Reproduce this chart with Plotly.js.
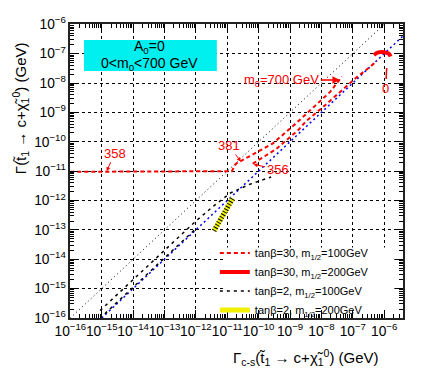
<!DOCTYPE html>
<html>
<head>
<meta charset="utf-8">
<script src="https://cdn.plot.ly/plotly-3.0.1.min.js"></script>
<style>
  html, body { margin: 0; padding: 0; background: #fff; }
  #plot { width: 429px; height: 382px; }
</style>
</head>
<body>
<div id="plot"></div>
<script>
// diagonal references
var diagX = [1e-16, 1e-6];
var diagY = [1e-16, 1e-6];
var blueX = [1e-15, 4e-6];
var blueY = [1e-16, 4e-7];

// tan(beta)=30, m1/2=100 GeV (two branches)
var red100aX = [1e-16, 1e-12, 1.4e-11, 1.9e-11, 2.8e-10, 1.5e-9, 3.1e-9, 7.4e-9, 1.9e-8, 4.5e-8];
var red100aY = [9.5e-12, 1e-11, 1e-11, 1.8e-11, 8.7e-11, 4.1e-10, 8.3e-10, 1.9e-9, 5e-9, 1.66e-8];
var red100bX = [6.5e-11, 3.5e-10, 1.9e-9, 3.1e-9, 1.15e-8, 3.9e-8, 1.35e-7, 3.5e-7, 5.9e-7];
var red100bY = [1.8e-11, 5.5e-11, 2.6e-10, 4.8e-10, 1.55e-9, 5e-9, 1.6e-8, 3.5e-8, 5.6e-8];

// tan(beta)=30, m1/2=200 GeV
var red200X = [4.7e-7, 6.5e-7, 1e-6, 1.4e-6, 1.6e-6];
var red200Y = [9e-8, 1.1e-7, 1.12e-7, 1e-7, 8e-8];

// tan(beta)=2, m1/2=100 GeV (two branches)
var blk100aX = [8.9e-16, 5e-15, 3.2e-14, 2e-13, 1e-12, 4e-12, 1.26e-11, 5e-11, 2.5e-10];
var blk100aY = [1.8e-16, 1e-15, 6.3e-15, 4e-14, 2e-13, 7e-13, 1.8e-12, 3.5e-12, 6.3e-12];
var blk100bX = [1.26e-15, 6.3e-15, 4e-14, 2.5e-13, 1e-12];
var blk100bY = [1.4e-16, 7e-16, 4.5e-15, 2.8e-14, 1.1e-13];

// tan(beta)=2, m1/2=200 GeV
var yelX = [3.8e-12, 7.9e-12, 1.5e-11];
var yelY = [9.3e-14, 4e-13, 1.2e-12];

var names = [
  'tan\u03b2=30, m<sub>1/2</sub>=100GeV',
  'tan\u03b2=30, m<sub>1/2</sub>=200GeV',
  'tan\u03b2=2, m<sub>1/2</sub>=100GeV',
  'tan\u03b2=2, m<sub>1/2</sub>=200GeV'
];

var traces = [
  {x: diagX, y: diagY, mode: 'lines', showlegend: false, hoverinfo: 'skip',
   line: {color: '#000', width: 1, dash: '1px,3px'}},
  {x: blueX, y: blueY, mode: 'lines', showlegend: false, hoverinfo: 'skip',
   line: {color: '#0000ff', width: 1.5, dash: '2px,3px'}},
  {x: red100aX, y: red100aY, mode: 'lines', name: names[0], legendgroup: 'r1',
   line: {color: '#ff0000', width: 2, dash: '4px,3px'}},
  {x: red100bX, y: red100bY, mode: 'lines', name: names[0], legendgroup: 'r1', showlegend: false,
   line: {color: '#ff0000', width: 2, dash: '4px,3px'}},
  {x: red200X, y: red200Y, mode: 'lines', name: names[1],
   line: {color: '#ff0000', width: 4, shape: 'spline'}},
  {x: blk100aX, y: blk100aY, mode: 'lines', name: names[2], legendgroup: 'b1',
   line: {color: '#000', width: 1.5, dash: '3px,4px'}},
  {x: blk100bX, y: blk100bY, mode: 'lines', name: names[2], legendgroup: 'b1', showlegend: false,
   line: {color: '#000', width: 1.5, dash: '3px,4px'}},
  {x: yelX, y: yelY, mode: 'lines', name: names[3],
   line: {color: '#f0f000', width: 5}},
  {x: yelX, y: yelY, mode: 'lines', showlegend: false, hoverinfo: 'skip',
   line: {color: '#000', width: 5, dash: '1px,2px'}}
];

var axisBase = {
  type: 'log',
  dtick: 1,
  exponentformat: 'power',
  showline: true,
  linecolor: '#222',
  linewidth: 2,
  mirror: 'allticks',
  ticks: 'inside',
  ticklen: 8,
  tickcolor: '#000',
  showgrid: true,
  gridcolor: '#000',
  gridwidth: 1,
  griddash: '3px,3px',
  zeroline: false,
  tickangle: 0,
  tickfont: {family: 'Liberation Sans, Arial, sans-serif', size: 11, color: '#000'},
  minor: {ticks: 'inside', ticklen: 4, tickcolor: '#000', showgrid: false}
};

var layout = {
  width: 429,
  height: 382,
  margin: {l: 70, r: 26, t: 24, b: 64},
  paper_bgcolor: '#fff',
  plot_bgcolor: '#fff',
  font: {family: 'Liberation Sans, Arial, sans-serif', color: '#000'},
  xaxis: Object.assign({}, axisBase, {range: [-16.01, -5.4]}),
  yaxis: Object.assign({}, axisBase, {range: [-16, -5.99]}),
  showlegend: true,
  legend: {
    x: 0.435, y: 0.27, xanchor: 'left', yanchor: 'top',
    bgcolor: 'rgba(0,0,0,0)', borderwidth: 0,
    font: {size: 11, color: '#000'},
    itemwidth: 30, tracegroupgap: 0
  },
  shapes: [
    {type: 'rect', xref: 'paper', yref: 'paper', x0: 0.042, x1: 0.441, y0: 0.840, y1: 0.946,
     fillcolor: '#00f0f0', line: {width: 0}, layer: 'above'},
    {type: 'rect', xref: 'paper', yref: 'paper', x0: 0.468, x1: 0.974, y0: 0.029, y1: 0.24,
     fillcolor: '#fff', line: {width: 0}, layer: 'above'}
  ],
  annotations: [
    {xref: 'paper', yref: 'paper', x: 0.24, y: 0.922, xanchor: 'center', yanchor: 'middle',
     text: 'A<sub>0</sub>=0', showarrow: false, font: {size: 14}},
    {xref: 'paper', yref: 'paper', x: 0.24, y: 0.864, xanchor: 'center', yanchor: 'middle',
     text: '0&lt;m<sub>0</sub>&lt;700 GeV', showarrow: false, font: {size: 14}},
    {x: -14.84, y: -11.0, text: '358', ax: 8, ay: -18, showarrow: true, arrowhead: 2, arrowsize: 0.8,
     arrowcolor: '#ff0000', arrowwidth: 1, font: {size: 13, color: '#ff0000'}},
    {x: -10.57, y: -10.67, text: '381', ax: -12, ay: -16, showarrow: true, arrowhead: 2, arrowsize: 0.8,
     arrowcolor: '#ff0000', arrowwidth: 1, font: {size: 13, color: '#ff0000'}},
    {x: -10.16, y: -10.77, text: '356', ax: 24, ay: 5, showarrow: true, arrowhead: 2, arrowsize: 0.8,
     arrowcolor: '#ff0000', arrowwidth: 1, font: {size: 13, color: '#ff0000'}},
    {x: -7.41, y: -7.9, text: 'm<sub>0</sub>=700 GeV', ax: -58, ay: 0, showarrow: true, arrowhead: 2,
     arrowsize: 1, arrowcolor: '#ff0000', arrowwidth: 1.5, font: {size: 13, color: '#ff0000'}},
    {x: -5.92, y: -7.49, text: '0', ax: -1, ay: 20, showarrow: true, arrowhead: 0,
     arrowcolor: '#ff0000', arrowwidth: 1.5, font: {size: 13, color: '#ff0000'}},
    {xref: 'paper', yref: 'paper', x: -0.15, y: 0.714, xanchor: 'center', yanchor: 'middle',
     textangle: -90, showarrow: false,
     text: '\u0393(t\u0303<sub>1</sub> \u2192 c+\u03c7\u0303<sub>1</sub><sup>0</sup>) (GeV)',
     font: {size: 15}},
    {xref: 'paper', yref: 'paper', x: 0.709, y: -0.136, xanchor: 'center', yanchor: 'middle',
     showarrow: false,
     text: '\u0393<sub>c-s</sub>(t\u0303<sub>1</sub> \u2192 c+\u03c7\u0303<sub>1</sub><sup>0</sup>) (GeV)',
     font: {size: 15}}
  ]
};

Plotly.newPlot(document.getElementById('plot'), traces, layout, {staticPlot: true});
</script>
</body>
</html>
